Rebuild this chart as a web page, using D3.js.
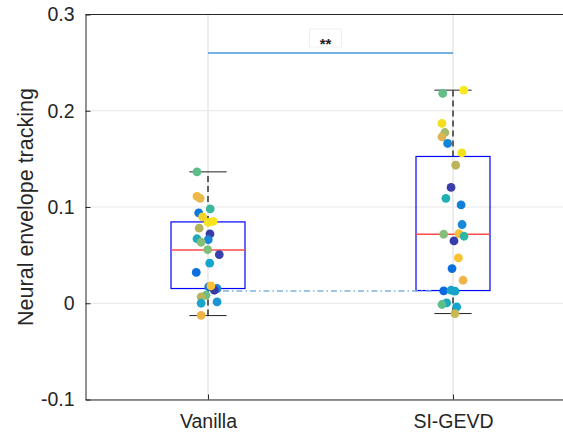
<!DOCTYPE html>
<html>
<head>
<meta charset="utf-8">
<script src="https://cdn.jsdelivr.net/npm/d3@7"></script>
<style>
  body { margin: 0; background: #fff; }
  text { font-family: "Liberation Sans", Arial, Helvetica, sans-serif; }
</style>
</head>
<body>
<div id="vis"></div>
<script>
// groups and tick labels
let groups = ['Vanilla', 'SI-GEVD'];
let yTicks = [-0.1, 0, 0.1, 0.2, 0.3];
let yTickLabels = ['-0.1', '0', '0.1', '0.2', '0.3'];

// box stats per group: [lowWhisker, q1, median, q3, highWhisker]
let vanillaBox = [-0.0128, 0.0153, 0.0554, 0.0845, 0.1365];
let sigevdBox = [-0.0107, 0.0132, 0.0717, 0.1525, 0.2214];

// jittered points: [x jitter in category units, value, colour]
let vanillaPts = [
    [-0.045, 0.1365, '#5cbf8a'], [-0.045, 0.111, '#f2b845'], [-0.032, 0.109, '#e8b94f'],
    [0.009, 0.098, '#3bb89c'], [-0.038, 0.094, '#0a78dc'], [-0.022, 0.0897, '#f2d42a'],
    [0.001, 0.0839, '#f7e21e'], [0.021, 0.085, '#f7e41c'], [-0.036, 0.078, '#b5b45c'],
    [0.008, 0.072, '#3a3ca6'], [-0.045, 0.067, '#22aab8'], [0.001, 0.066, '#1a86d9'],
    [-0.028, 0.0634, '#84bf7a'], [-0.001, 0.0558, '#7fbf7c'], [0.046, 0.0506, '#3640ae'],
    [0.007, 0.0416, '#14a6cc'], [-0.048, 0.032, '#0d6ee0'], [0.003, 0.017, '#1479d6'],
    [0.037, 0.0153, '#1a82d8'], [0.026, 0.0135, '#3a3aa4'], [0.012, 0.018, '#f6c43a'],
    [-0.008, 0.0083, '#6cbf84'], [-0.028, 0.0066, '#b7b55a'], [-0.028, 0.0, '#1aa6cc'],
    [0.037, 0.0014, '#1a96d4'], [-0.028, -0.0125, '#eeb446']
];
let sigevdPts = [
    [0.044, 0.2214, '#f6e91c'], [-0.042, 0.218, '#62bf88'], [-0.045, 0.1868, '#f3df20'],
    [-0.033, 0.1774, '#a4bb6a'], [-0.045, 0.1729, '#ddb552'], [-0.022, 0.166, '#1486d8'],
    [0.036, 0.1562, '#f4e11e'], [0.011, 0.1434, '#bab55a'], [-0.008, 0.1203, '#3a3ea8'],
    [-0.029, 0.109, '#1fb0b4'], [0.033, 0.1022, '#1480d8'], [0.037, 0.0818, '#1888d8'],
    [-0.038, 0.0717, '#84bf7a'], [0.024, 0.0724, '#fbc03a'], [0.045, 0.0696, '#33b5a4'],
    [0.004, 0.0648, '#373ca6'], [0.022, 0.0471, '#fbc232'], [-0.004, 0.036, '#0a6ee0'],
    [0.041, 0.0239, '#f0b548'], [-0.038, 0.0128, '#0a6ae0'], [-0.008, 0.0135, '#1aa2c8'],
    [0.008, 0.0125, '#14a4ca'], [-0.026, 0.0003, '#1ba8bd'], [-0.045, -0.0013, '#5cbf8a'],
    [0.015, -0.0038, '#14a4cc'], [0.008, -0.0107, '#c8b755']
];

// significance bar and connecting line
let sigLevel = 0.26;
let sigText = '**';
let linkLevel = 0.0128;
let linkFrom = 1.061, linkTo = 1.922;

let W = 563, H = 434;
let margin = { top: 14.5, left: 85.5, bottom: 34.5 };

let svg = d3.select('#vis')
    .append('svg')
    .attr('width', W)
    .attr('height', H);

// x: category index 1..2, domain 0.5..2.5 (right side clipped by window)
let x = d3.scaleLinear()
    .domain([0.5, 2.5])
    .range([margin.left, margin.left + 490]);
let y = d3.scaleLinear()
    .domain([-0.1, 0.3])
    .range([H - margin.bottom, margin.top]);

let axisColor = '#262626';
let tickFont = 19.5;

// grid lines
svg.append('g')
    .selectAll('line.hgrid')
    .data(yTicks)
    .enter().append('line')
    .attr('x1', x(0.5)).attr('x2', x(2.5))
    .attr('y1', d => y(d)).attr('y2', d => y(d))
    .attr('stroke', '#e6e6e6')
    .attr('stroke-width', 1);
svg.append('g')
    .selectAll('line.vgrid')
    .data([1, 2])
    .enter().append('line')
    .attr('x1', d => x(d)).attr('x2', d => x(d))
    .attr('y1', y(-0.1)).attr('y2', y(0.3))
    .attr('stroke', '#e6e6e6')
    .attr('stroke-width', 1.5);

// axes
let yAxis = d3.axisLeft(y)
    .tickValues(yTicks)
    .tickSizeInner(-5)
    .tickSizeOuter(0)
    .tickPadding(11)
    .tickFormat((d, i) => yTickLabels[i]);
let gy = svg.append('g')
    .attr('transform', 'translate(' + x(0.5) + ',0)')
    .call(yAxis);

let xAxis = d3.axisBottom(x)
    .tickValues([1, 2])
    .tickSizeInner(-5)
    .tickSizeOuter(0)
    .tickPadding(15)
    .tickFormat(d => groups[d - 1]);
let gx = svg.append('g')
    .attr('transform', 'translate(0,' + y(-0.1) + ')')
    .call(xAxis);

[gx, gy].forEach(g => {
    g.select('.domain').attr('stroke', axisColor);
    g.selectAll('.tick line').attr('stroke', axisColor);
    g.selectAll('.tick text')
        .attr('fill', axisColor)
        .attr('font-size', tickFont)
        .attr('font-family', '"Liberation Sans", Arial, sans-serif');
});

// top border
svg.append('line')
    .attr('x1', x(0.5)).attr('x2', x(2.5))
    .attr('y1', y(0.3)).attr('y2', y(0.3))
    .attr('stroke', axisColor);

// y label
svg.append('text')
    .attr('transform', 'translate(33,' + y(0.1) + ') rotate(-90)')
    .attr('text-anchor', 'middle')
    .attr('font-size', 21.5)
    .attr('fill', axisColor)
    .text('Neural envelope tracking');

// boxplots
let halfBox = 0.151, halfCap = 0.076;
let boxes = [vanillaBox, sigevdBox];
boxes.forEach((b, i) => {
    let cx = i + 1;
    let g = svg.append('g');
    // whiskers
    g.append('line')
        .attr('x1', x(cx)).attr('x2', x(cx))
        .attr('y1', y(b[3])).attr('y2', y(b[4]))
        .attr('stroke', '#333').attr('stroke-width', 1.5)
        .attr('stroke-dasharray', '6,4');
    g.append('line')
        .attr('x1', x(cx)).attr('x2', x(cx))
        .attr('y1', y(b[0])).attr('y2', y(b[1]))
        .attr('stroke', '#333').attr('stroke-width', 1.5)
        .attr('stroke-dasharray', '6,4');
    // caps
    [b[0], b[4]].forEach(v => {
        g.append('line')
            .attr('x1', x(cx - halfCap)).attr('x2', x(cx + halfCap))
            .attr('y1', y(v)).attr('y2', y(v))
            .attr('stroke', '#222').attr('stroke-width', 1);
    });
    // box
    g.append('rect')
        .attr('x', x(cx - halfBox))
        .attr('y', y(b[3]))
        .attr('width', x(cx + halfBox) - x(cx - halfBox))
        .attr('height', y(b[1]) - y(b[3]))
        .attr('fill', 'none')
        .attr('stroke', '#0000ff')
        .attr('stroke-width', 1.2);
    // median
    g.append('line')
        .attr('x1', x(cx - halfBox)).attr('x2', x(cx + halfBox))
        .attr('y1', y(b[2])).attr('y2', y(b[2]))
        .attr('stroke', '#ff4a4a').attr('stroke-width', 1.4);
});

// dash-dot link line
svg.append('line')
    .attr('x1', x(linkFrom)).attr('x2', x(linkTo))
    .attr('y1', y(linkLevel)).attr('y2', y(linkLevel))
    .attr('stroke', '#7db2df')
    .attr('stroke-width', 1.5)
    .attr('stroke-dasharray', '6,3,1.5,3');

// points
[vanillaPts, sigevdPts].forEach((pts, i) => {
    svg.append('g')
        .selectAll('circle')
        .data(pts)
        .enter().append('circle')
        .attr('cx', d => x(i + 1 + d[0]))
        .attr('cy', d => y(d[1]))
        .attr('r', 4.4)
        .attr('fill', d => d[2]);
});

// significance bar
svg.append('line')
    .attr('x1', x(1)).attr('x2', x(2))
    .attr('y1', y(sigLevel)).attr('y2', y(sigLevel))
    .attr('stroke', '#4a9ad8')
    .attr('stroke-width', 1.5);
let mid = x(1.5);
svg.append('rect')
    .attr('x', mid - 21).attr('y', y(sigLevel) - 24)
    .attr('width', 32).attr('height', 18)
    .attr('fill', '#fff')
    .attr('stroke', '#f0f0f0');
svg.append('text')
    .attr('x', mid - 5).attr('y', y(sigLevel) - 4)
    .attr('text-anchor', 'middle')
    .attr('font-size', 15)
    .attr('font-weight', 'bold')
    .attr('fill', '#222')
    .text(sigText);
</script>
</body>
</html>
